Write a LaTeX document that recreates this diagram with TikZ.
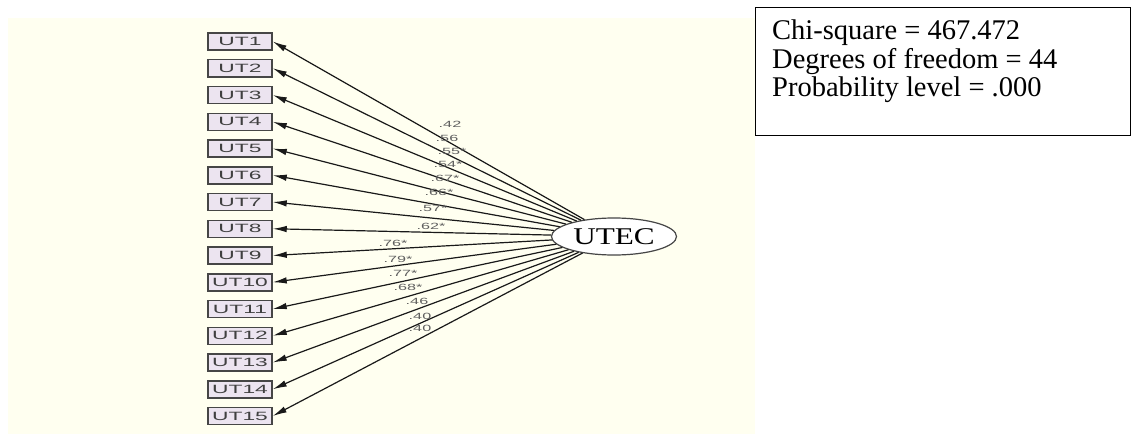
\documentclass[tikz,border=0pt]{standalone}
\usepackage{fontspec}
\setmainfont{Liberation Serif}
\newfontfamily\amosfont{Liberation Sans}
\usetikzlibrary{arrows.meta,shapes.geometric}
\definecolor{paper}{RGB}{255,255,240}
\definecolor{boxfill}{RGB}{236,228,240}
\definecolor{boxline}{RGB}{70,70,70}
\definecolor{labgray}{RGB}{95,95,95}
% horizontally stretched text, as the path diagram program prints it
\newcommand\widetxt[2]{\scalebox{#1}[1]{#2}}
\begin{document}
\begin{tikzpicture}[x=1pt,y=-1pt,
  obs/.style={draw=boxline, line width=1.5pt, fill=boxfill,
    minimum width=64pt, minimum height=17pt, inner sep=0pt,
    font=\amosfont\fontsize{12}{12}\selectfont, text=black!75},
  lat/.style={ellipse, draw=boxline, line width=1.2pt, fill=white,
    minimum width=125pt, minimum height=37pt, inner sep=0pt,
    font=\fontsize{24}{24}\selectfont},
  load/.style={-{Latex[length=14pt,width=6.5pt]}, line width=1.2pt, black!90},
  coef/.style={font=\amosfont\fontsize{9}{9}\selectfont, text=labgray, inner sep=0pt},
  fitline/.style={anchor=base west, inner sep=0pt, font=\fontsize{28.5}{28.7}\selectfont}]
\useasboundingbox (0,0) rectangle (1132,436);
% diagram canvas
\fill[paper] (8,18) rectangle (755,434);

% latent factor
\node[lat] (utec) at (614,236.5) {\widetxt{1.3}{UTEC}};

% observed indicators and their loadings
\foreach \i in {1,...,15}
  \node[obs] (ut\i) at (240,{41.5+26.75*(\i-1)}) {\widetxt{1.9}{UT\i}};
\foreach \i in {1,...,15}
  \draw[load] (utec) -- (ut\i.east);

% standardized coefficients
\foreach \x/\y/\t [count=\k] in {450/124/.42, 447/138/.56, 452/151/.55*,
    448/164/.54*, 445/178/.67*, 439/192/.66*, 433/208/.57*, 431/226/.62*,
    393/243/.76*, 398/259/.79*, 403/273/.77*, 408/287/.68*, 417/301/.46,
    420/316/.40, 420/328/.40}
  \node[coef] (c\k) at (\x,\y) {\widetxt{1.8}{\t}};

% model fit summary
\node[draw=black, line width=1.3pt, anchor=north west, inner sep=0pt,
  minimum width=375pt, minimum height=128pt] (fitbox) at (755,7) {};
\node[fitline] (fit1) at (772,39.3) {Chi-square = 467.472};
\node[fitline] (fit2) at (772,68.2) {Degrees of freedom = 44};
\node[fitline] (fit3) at (772,96.8) {Probability level = .000};
\end{tikzpicture}
\end{document}
